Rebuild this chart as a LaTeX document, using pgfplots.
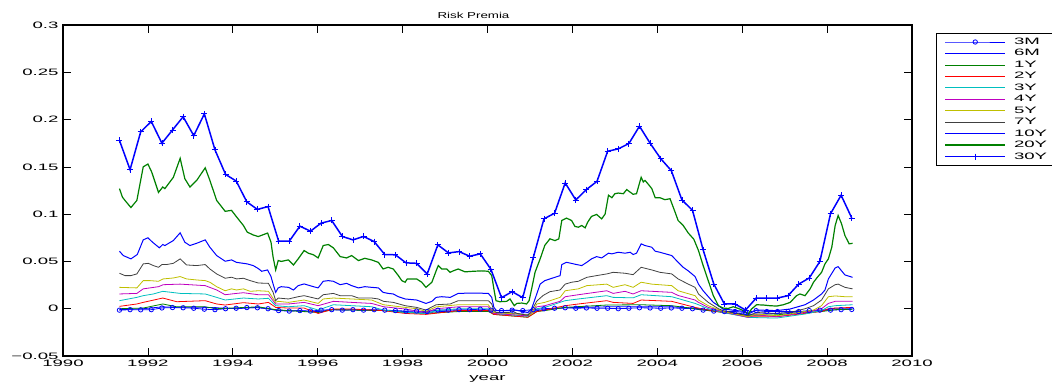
\documentclass[border=0pt]{standalone}
\usepackage{pgfplots}
\pgfplotsset{compat=1.18}
\usepackage{fontspec}
\setmainfont{Liberation Sans}
\newfontfamily\tickfont[FakeStretch=2.0]{Liberation Sans}
\newfontfamily\headfont[FakeStretch=1.55]{Liberation Sans}

\definecolor{mblue}{rgb}{0,0,1}
\definecolor{mgreen}{rgb}{0,0.5,0}
\definecolor{mred}{rgb}{1,0,0}
\definecolor{mcyan}{rgb}{0,0.75,0.75}
\definecolor{mmag}{rgb}{0.75,0,0.75}
\definecolor{myel}{rgb}{0.75,0.75,0}
\definecolor{mgray}{rgb}{0.25,0.25,0.25}

\begin{document}
\begin{tikzpicture}
\begin{axis}[
  scale only axis,
  width=849pt, height=331pt,
  xmin=1990, xmax=2010, ymin=-0.05, ymax=0.3,
  xtick={1990,1992,...,2010},
  xticklabels={1990,1992,1994,1996,1998,2000,2002,2004,2006,2008,2010},
  ytick={-0.05,0,0.05,0.1,0.15,0.2,0.25,0.3},
  yticklabels={−0.05,0,0.05,0.1,0.15,0.2,0.25,0.3},
  tick align=inside,
  major tick length=8pt,
  tick style={black, line width=0.7pt},
  axis line style={black, line width=1.2pt},
  ticklabel style={font=\fontsize{9.3}{11}\tickfont},
  xticklabel style={yshift=0pt},
  yticklabel style={xshift=-1pt},
  xlabel={\fontsize{9.3}{11}\tickfont year},
  xlabel style={yshift=-3pt},
  legend style={at={(1,1)}, anchor=north west, xshift=24pt, yshift=-8pt,
    font=\fontsize{9.3}{11}\tickfont, draw=black, line width=1pt,
    inner xsep=8pt, inner ysep=2.5pt, row sep=-0.5pt, column sep=6pt,
    cells={anchor=west}},
  legend cell align=left,
  legend image code/.code={%
    \draw[mark repeat=2,mark phase=2,#1]
      plot coordinates {(0pt,0pt) (30pt,0pt) (60pt,0pt)};},
]
\coordinate (o) at (rel axis cs:0,0);
\coordinate (top) at (rel axis cs:0.5,1);

% 3M
\addplot[mblue, line width=0.8pt, mark=o, mark size=2.2pt, mark options={line width=0.8pt}] coordinates {
(1991.33,-0.0015) (1991.58,-0.001) (1991.83,-0.0012) (1992.08,-0.001)
(1992.33,0.0008) (1992.58,0.0012) (1992.83,0.001) (1993.08,0.0005)
(1993.33,-0.0005) (1993.58,-0.001) (1993.83,0) (1994.08,0.0005)
(1994.33,0.0012) (1994.58,0.001) (1994.83,0) (1995.08,-0.002)
(1995.33,-0.0025) (1995.58,-0.002) (1995.83,-0.0025) (1996.08,-0.0015)
(1996.33,-0.001) (1996.58,-0.0015) (1996.83,-0.001) (1997.08,-0.0015)
(1997.33,-0.001) (1997.58,-0.0015) (1997.83,-0.002) (1998.08,-0.0025)
(1998.33,-0.0025) (1998.58,-0.003) (1998.83,-0.0015) (1999.08,-0.0015)
(1999.33,-0.001) (1999.58,-0.001) (1999.83,-0.0005) (2000.08,-0.0015)
(2000.33,-0.002) (2000.58,-0.0015) (2000.83,-0.002) (2001.08,-0.001)
(2001.33,0) (2001.58,0.0005) (2001.83,0.001) (2002.08,0.0005)
(2002.33,0.0008) (2002.58,0.0005) (2002.83,0.0005) (2003.08,0)
(2003.33,0.0005) (2003.58,0.001) (2003.83,0.0008) (2004.08,0.0005)
(2004.33,0.0008) (2004.58,0.0005) (2004.83,0) (2005.08,-0.0015)
(2005.33,-0.0025) (2005.58,-0.003) (2005.83,-0.003) (2006.08,-0.004)
(2006.33,-0.002) (2006.58,-0.003) (2006.83,-0.003) (2007.08,-0.003)
(2007.33,-0.003) (2007.58,-0.002) (2007.83,-0.0015) (2008.08,-0.0015)
(2008.33,-0.001) (2008.58,-0.0008)
};
\addlegendentry{3M}

% 6M
\addplot[mblue, line width=0.8pt] coordinates {
(1991.33,-0.001) (1991.89,0) (1992.35,0.002) (1992.68,0.0015) (1993.35,0.0015)
(1994.09,0) (1994.60,0.0015) (1995.01,-0.0015) (1995.31,-0.002) (1996.01,-0.003)
(1996.37,-0.001) (1997.55,-0.002) (1998.06,-0.003) (1998.55,-0.004) (1999.31,-0.002)
(2000.02,-0.002) (2000.15,-0.004) (2000.95,-0.006) (2001.16,-0.002) (2001.35,-0.001)
(2001.83,0.001) (2002.81,0.002) (2003.62,0.002) (2004.34,0.002) (2004.89,0.0005)
(2005.55,-0.003) (2006.14,-0.006) (2006.81,-0.005) (2007.48,-0.003) (2007.87,-0.002)
(2008.19,0.0005) (2008.60,0.0005)
};
\addlegendentry{6M}

% 1Y
\addplot[mgreen, line width=0.8pt] coordinates {
(1991.33,0) (1991.89,0.0007) (1992.35,0.005) (1992.68,0.002) (1993.35,0.002)
(1993.62,0) (1994.60,0.002) (1995.01,-0.001) (1995.31,-0.002) (1996.01,-0.004)
(1996.37,-0.001) (1997.55,-0.002) (1998.06,-0.004) (1998.55,-0.005) (1999.31,-0.003)
(2000.02,-0.003) (2000.15,-0.006) (2000.95,-0.009) (2001.16,-0.003) (2001.35,-0.002)
(2001.83,0.0014) (2002.81,0.0039) (2003.62,0.0042) (2004.34,0.0032) (2004.89,0)
(2005.55,-0.004) (2006.14,-0.007) (2006.81,-0.0065) (2007.48,-0.004) (2007.87,-0.003)
(2008.19,-0.001) (2008.60,-0.0005)
};
\addlegendentry{1Y}

% 2Y
\addplot[mred, line width=0.8pt] coordinates {
(1991.33,0.0025) (1991.74,0.005) (1991.89,0.0067) (1992.35,0.0113) (1992.68,0.0074)
(1993.35,0.0085) (1993.62,0.005) (1993.82,0.0039) (1994.25,0.0064) (1994.60,0.005)
(1994.84,0.0067) (1995.01,0.0014) (1995.31,0.0007) (1995.68,0.0007) (1996.01,-0.005)
(1996.37,-0.0003) (1996.80,-0.0003) (1997.55,-0.002) (1998.06,-0.005) (1998.55,-0.006)
(1999.31,-0.002) (2000.02,-0.002) (2000.15,-0.006) (2000.95,-0.009) (2001.16,-0.003)
(2001.35,-0.0014) (2001.83,0.0032) (2002.14,0.005) (2002.81,0.0085) (2002.96,0.0067)
(2003.43,0.0056) (2003.62,0.0092) (2004.34,0.0078) (2004.89,0.0014) (2005.20,-0.0014)
(2005.55,-0.004) (2006.14,-0.0085) (2006.81,-0.0085) (2007.48,-0.005) (2007.87,-0.0028)
(2008.03,0) (2008.19,0.0007) (2008.60,0.0014)
};
\addlegendentry{2Y}

% 3Y
\addplot[mcyan, line width=0.8pt] coordinates {
(1991.33,0.0085) (1991.74,0.012) (1991.89,0.0138) (1992.13,0.0156) (1992.35,0.0184)
(1992.76,0.0162) (1993.35,0.0156) (1993.62,0.012) (1993.82,0.0092) (1994.25,0.0113)
(1994.60,0.0103) (1994.84,0.011) (1995.01,0.0032) (1995.31,0.0021) (1995.68,0.0032)
(1996.01,-0.0014) (1996.37,0.0042) (1996.80,0.0032) (1997.27,0.0021) (1997.55,-0.0014)
(1998.06,-0.0039) (1998.55,-0.005) (1998.79,-0.002) (1999.31,0) (2000.02,0)
(2000.15,-0.005) (2000.95,-0.008) (2001.16,0) (2001.35,0.0014) (2001.83,0.0085)
(2002.14,0.0103) (2002.81,0.0138) (2002.96,0.012) (2003.43,0.0115) (2003.62,0.0148)
(2004.34,0.0127) (2004.89,0.0056) (2004.97,0.0042) (2005.20,0) (2005.55,-0.004)
(2006.14,-0.0092) (2006.81,-0.0099) (2007.48,-0.0056) (2007.87,-0.002) (2008.03,0.0021)
(2008.19,0.0032) (2008.60,0.0042)
};
\addlegendentry{3Y}

% 4Y
\addplot[mmag, line width=0.8pt] coordinates {
(1991.33,0.0156) (1991.74,0.0162) (1991.89,0.021) (1992.25,0.0233) (1992.36,0.0254)
(1992.76,0.026) (1993.35,0.0244) (1993.62,0.0198) (1993.82,0.0148) (1994.09,0.0162)
(1994.25,0.0169) (1994.60,0.0148) (1994.84,0.0148) (1995.01,0.005) (1995.31,0.005)
(1995.68,0.0067) (1996.01,0.0032) (1996.37,0.0078) (1996.80,0.0067) (1997.27,0.0056)
(1997.55,0.0021) (1998.06,-0.0003) (1998.55,-0.004) (1998.79,0) (1999.31,0.002)
(2000.02,0.002) (2000.15,-0.005) (2000.95,-0.0075) (2001.16,0.002) (2001.35,0.0032)
(2001.71,0.0078) (2001.83,0.0127) (2002.14,0.0148) (2002.81,0.019) (2002.96,0.0162)
(2003.24,0.0184) (2003.43,0.0156) (2003.62,0.019) (2004.34,0.0173) (2004.49,0.014)
(2004.89,0.0092) (2004.97,0.0067) (2005.20,0.0014) (2005.55,-0.0032) (2006.14,-0.0092)
(2006.34,-0.0064) (2006.81,-0.0085) (2007.48,-0.004) (2007.87,0) (2008.03,0.0056)
(2008.19,0.0078) (2008.60,0.0078)
};
\addlegendentry{4Y}

% 5Y
\addplot[myel, line width=0.8pt] coordinates {
(1991.33,0.0226) (1991.74,0.022) (1991.89,0.0297) (1992.05,0.0297) (1992.25,0.029)
(1992.36,0.0315) (1992.60,0.0325) (1992.76,0.034) (1992.91,0.0315) (1993.15,0.0304)
(1993.35,0.0297) (1993.46,0.028) (1993.62,0.0233) (1993.82,0.019) (1993.97,0.021)
(1994.09,0.0198) (1994.25,0.021) (1994.41,0.0184) (1994.60,0.019) (1994.84,0.0184)
(1995.01,0.0067) (1995.07,0.0078) (1995.31,0.0067) (1995.68,0.0092) (1996.01,0.0056)
(1996.13,0.0103) (1996.37,0.0113) (1996.80,0.0103) (1997.27,0.0092) (1997.55,0.0042)
(1998.06,0.0014) (1998.33,0) (1998.55,-0.0028) (1998.79,0.002) (1999.31,0.0042)
(2000.02,0.0042) (2000.15,-0.004) (2000.50,-0.005) (2000.95,-0.0065) (2001.04,-0.0056)
(2001.16,0.005) (2001.35,0.0067) (2001.71,0.012) (2001.83,0.019) (2002.14,0.021)
(2002.34,0.0244) (2002.81,0.026) (2002.96,0.0226) (2003.24,0.0254) (2003.43,0.0226)
(2003.62,0.028) (2003.87,0.026) (2004.34,0.0244) (2004.49,0.019) (2004.89,0.0138)
(2004.97,0.0092) (2005.20,0.0032) (2005.55,-0.0028) (2006.14,-0.0085) (2006.34,-0.0056)
(2006.81,-0.0074) (2007.13,-0.0056) (2007.48,-0.0028) (2007.68,-0.0014) (2007.87,0.0032)
(2008.03,0.0127) (2008.19,0.0135) (2008.42,0.0127) (2008.60,0.0127)
};
\addlegendentry{5Y}

% 7Y
\addplot[mgray, line width=0.8pt] coordinates {
(1991.33,0.0375) (1991.46,0.035) (1991.60,0.035) (1991.74,0.0368) (1991.89,0.0474)
(1992.01,0.048) (1992.13,0.0456) (1992.25,0.0438) (1992.33,0.0467) (1992.44,0.0467)
(1992.60,0.048) (1992.76,0.0527) (1992.91,0.0463) (1993.15,0.0456) (1993.35,0.0467)
(1993.46,0.042) (1993.62,0.0368) (1993.82,0.0322) (1993.97,0.0333) (1994.09,0.0315)
(1994.25,0.0322) (1994.41,0.0297) (1994.60,0.0272) (1994.84,0.0268) (1994.95,0.0173)
(1995.01,0.0085) (1995.07,0.0113) (1995.31,0.0103) (1995.54,0.0127) (1995.68,0.0138)
(1996.01,0.0103) (1996.13,0.0148) (1996.37,0.0162) (1996.53,0.0138) (1996.80,0.0138)
(1996.96,0.0113) (1997.27,0.0113) (1997.43,0.0103) (1997.55,0.0078) (1997.78,0.0067)
(1998.06,0.0032) (1998.33,0.0014) (1998.55,-0.0014) (1998.79,0.0042) (1999.12,0.005)
(1999.31,0.0085) (2000.02,0.0085) (2000.10,0.005) (2000.15,-0.002) (2000.21,-0.004)
(2000.50,-0.004) (2000.60,-0.003) (2000.70,-0.005) (2000.95,-0.007) (2001.04,-0.002)
(2001.16,0.008) (2001.31,0.014) (2001.47,0.018) (2001.71,0.0198) (2001.83,0.026)
(2001.98,0.028) (2002.14,0.029) (2002.34,0.0332) (2002.57,0.035) (2002.81,0.0368)
(2002.96,0.0385) (2003.24,0.0375) (2003.43,0.036) (2003.62,0.0438) (2003.87,0.041)
(2004.06,0.0385) (2004.34,0.0368) (2004.49,0.0315) (2004.73,0.026) (2004.89,0.0226)
(2004.97,0.0156) (2005.20,0.0067) (2005.44,0) (2005.55,-0.002) (2006.14,-0.0074)
(2006.34,-0.004) (2006.81,-0.005) (2007.13,-0.004) (2007.48,0) (2007.68,0.0032)
(2007.87,0.0092) (2008.03,0.021) (2008.19,0.0254) (2008.26,0.026) (2008.42,0.0226)
(2008.60,0.021)
};
\addlegendentry{7Y}

% 10Y
\addplot[mblue, line width=1pt] coordinates {
(1991.33,0.0608) (1991.42,0.0562) (1991.60,0.0527) (1991.75,0.0573) (1991.89,0.0728)
(1992.00,0.075) (1992.11,0.0703) (1992.27,0.0644) (1992.35,0.0679) (1992.40,0.0668)
(1992.60,0.0721) (1992.76,0.0803) (1992.87,0.0703) (1992.99,0.0668) (1993.15,0.0692)
(1993.35,0.0728) (1993.46,0.065) (1993.62,0.0562) (1993.82,0.0502) (1993.97,0.0516)
(1994.09,0.049) (1994.34,0.0474) (1994.48,0.0456) (1994.60,0.0425) (1994.68,0.0396)
(1994.82,0.041) (1994.90,0.034) (1994.95,0.026) (1995.01,0.0173) (1995.07,0.022)
(1995.14,0.0233) (1995.31,0.0226) (1995.43,0.0198) (1995.54,0.0244) (1995.68,0.0262)
(1995.90,0.0233) (1996.01,0.022) (1996.13,0.029) (1996.25,0.0297) (1996.37,0.029)
(1996.53,0.0254) (1996.68,0.0268) (1996.80,0.0244) (1996.96,0.022) (1997.11,0.0233)
(1997.27,0.0226) (1997.43,0.022) (1997.54,0.0173) (1997.66,0.0162) (1997.78,0.0156)
(1997.90,0.0127) (1998.06,0.0103) (1998.33,0.0092) (1998.55,0.0056) (1998.69,0.0078)
(1998.79,0.012) (1998.92,0.0127) (1999.12,0.012) (1999.31,0.0162) (1999.67,0.0166)
(2000.02,0.0162) (2000.10,0.012) (2000.15,0.0014) (2000.21,-0.002) (2000.50,-0.002)
(2000.60,-0.001) (2000.95,-0.004) (2001.04,0) (2001.24,0.026) (2001.35,0.0297)
(2001.71,0.035) (2001.75,0.0467) (2001.86,0.0491) (2002.10,0.0467) (2002.22,0.0456)
(2002.34,0.0491) (2002.45,0.0527) (2002.57,0.0551) (2002.69,0.0537) (2002.85,0.0587)
(2002.93,0.058) (2003.08,0.0597) (2003.24,0.0587) (2003.36,0.0597) (2003.43,0.0573)
(2003.51,0.0587) (2003.62,0.0686) (2003.71,0.0668) (2003.87,0.065) (2003.95,0.0608)
(2004.06,0.0597) (2004.34,0.0562) (2004.49,0.0491) (2004.61,0.0438) (2004.73,0.040)
(2004.89,0.034) (2004.97,0.026) (2005.08,0.019) (2005.32,0.0067) (2005.55,-0.0003)
(2006.03,-0.0028) (2006.14,-0.0056) (2006.34,-0.0014) (2006.81,-0.002) (2007.13,-0.0003)
(2007.48,0.0042) (2007.68,0.0092) (2007.87,0.0156) (2007.95,0.0198) (2008.03,0.0315)
(2008.19,0.0431) (2008.26,0.0445) (2008.42,0.0357) (2008.60,0.0332)
};
\addlegendentry{10Y}

% 20Y
\addplot[mgreen, line width=1.2pt] coordinates {
(1991.33,0.127) (1991.40,0.118) (1991.46,0.1145) (1991.60,0.107) (1991.74,0.1145)
(1991.89,0.150) (1992.00,0.153) (1992.09,0.1445) (1992.25,0.123) (1992.35,0.1287)
(1992.40,0.127) (1992.60,0.139) (1992.76,0.159) (1992.87,0.1375) (1992.99,0.1287)
(1993.15,0.1357) (1993.35,0.149) (1993.46,0.1357) (1993.62,0.1145) (1993.82,0.103)
(1993.97,0.104) (1994.09,0.097) (1994.25,0.088) (1994.34,0.081) (1994.48,0.078)
(1994.60,0.0763) (1994.82,0.080) (1994.90,0.0703) (1994.95,0.0544) (1995.01,0.041)
(1995.07,0.051) (1995.14,0.050) (1995.31,0.0516) (1995.43,0.0463) (1995.54,0.0527)
(1995.68,0.0615) (1995.78,0.0587) (1995.90,0.057) (1996.01,0.0537) (1996.13,0.0668)
(1996.25,0.0679) (1996.37,0.0643) (1996.53,0.0551) (1996.68,0.0537) (1996.80,0.0562)
(1996.96,0.0509) (1997.11,0.0533) (1997.27,0.0516) (1997.43,0.049) (1997.54,0.042)
(1997.66,0.0438) (1997.78,0.042) (1997.90,0.035) (1997.98,0.0297) (1998.06,0.028)
(1998.11,0.0315) (1998.33,0.0315) (1998.45,0.028) (1998.55,0.0226) (1998.69,0.028)
(1998.79,0.040) (1998.84,0.0456) (1998.92,0.042) (1999.04,0.042) (1999.12,0.0385)
(1999.19,0.040) (1999.31,0.042) (1999.47,0.039) (1999.67,0.0396) (1999.86,0.040)
(2000.02,0.0396) (2000.10,0.035) (2000.15,0.021) (2000.20,0.0085) (2000.29,0.0074)
(2000.45,0.0078) (2000.53,0.0103) (2000.63,0.0032) (2000.69,0.0056) (2000.81,0.006)
(2000.92,0.005) (2000.98,0.0085) (2001.04,0.021) (2001.12,0.0385) (2001.24,0.0527)
(2001.35,0.067) (2001.47,0.0739) (2001.59,0.072) (2001.68,0.0739) (2001.75,0.0933)
(2001.86,0.0958) (2001.98,0.0933) (2002.06,0.087) (2002.14,0.0862) (2002.22,0.088)
(2002.30,0.0855) (2002.36,0.0915) (2002.45,0.0976) (2002.57,0.0997) (2002.69,0.095)
(2002.77,0.100) (2002.85,0.120) (2002.93,0.1174) (2003.00,0.1216) (2003.08,0.1223)
(2003.20,0.1216) (2003.28,0.126) (2003.36,0.1233) (2003.43,0.121) (2003.51,0.1216)
(2003.62,0.139) (2003.67,0.134) (2003.71,0.1357) (2003.79,0.1315) (2003.87,0.127)
(2003.95,0.1174) (2004.06,0.1174) (2004.18,0.1153) (2004.30,0.1163) (2004.42,0.102)
(2004.49,0.0933) (2004.61,0.088) (2004.73,0.080) (2004.86,0.0735) (2004.97,0.0615)
(2005.08,0.0456) (2005.20,0.0297) (2005.32,0.0138) (2005.44,0.0032) (2005.55,0.0007)
(2005.67,0.0003) (2005.79,0.0021) (2005.91,0.0003) (2006.03,-0.0021) (2006.14,-0.0056)
(2006.22,-0.0003) (2006.34,0.0042) (2006.50,0.0039) (2006.65,0.0032) (2006.81,0.0028)
(2006.97,0.0042) (2007.13,0.0067) (2007.28,0.0138) (2007.36,0.0156) (2007.48,0.0138)
(2007.60,0.021) (2007.68,0.028) (2007.77,0.0332) (2007.87,0.0385) (2007.95,0.0474)
(2008.03,0.0527) (2008.11,0.065) (2008.19,0.088) (2008.26,0.0986) (2008.34,0.0898)
(2008.42,0.0774) (2008.52,0.0686) (2008.60,0.0692)
};
\addlegendentry{20Y}

% 30Y
\addplot[mblue, line width=1.5pt, mark=+, mark size=3pt, mark options={line width=0.8pt}] coordinates {
(1991.33,0.178) (1991.58,0.147) (1991.83,0.187) (1992.08,0.198)
(1992.33,0.175) (1992.58,0.189) (1992.83,0.203) (1993.08,0.183)
(1993.33,0.206) (1993.58,0.168) (1993.83,0.142) (1994.08,0.135)
(1994.33,0.113) (1994.58,0.105) (1994.83,0.108) (1995.08,0.0714)
(1995.33,0.0714) (1995.58,0.0873) (1995.83,0.082) (1996.08,0.0905)
(1996.33,0.0933) (1996.58,0.0764) (1996.83,0.0728) (1997.08,0.0764)
(1997.33,0.071) (1997.58,0.0573) (1997.83,0.057) (1998.08,0.0485)
(1998.33,0.048) (1998.58,0.0368) (1998.83,0.0675) (1999.08,0.059)
(1999.33,0.0604) (1999.58,0.0555) (1999.83,0.058) (2000.08,0.0417)
(2000.33,0.0117) (2000.58,0.018) (2000.83,0.0117) (2001.08,0.0544)
(2001.33,0.095) (2001.58,0.101) (2001.83,0.133) (2002.08,0.115)
(2002.33,0.126) (2002.58,0.1347) (2002.83,0.1665) (2003.08,0.169)
(2003.33,0.1746) (2003.58,0.193) (2003.83,0.175) (2004.08,0.1587)
(2004.33,0.146) (2004.58,0.115) (2004.83,0.104) (2005.08,0.0622)
(2005.33,0.0262) (2005.58,0.005) (2005.83,0.005) (2006.08,-0.0014)
(2006.33,0.0113) (2006.58,0.0113) (2006.83,0.0113) (2007.08,0.0138)
(2007.33,0.026) (2007.58,0.0325) (2007.83,0.05) (2008.08,0.1004)
(2008.33,0.120) (2008.58,0.096)
};
\addlegendentry{30Y}
\end{axis}
\node[font=\fontsize{8.6}{10}\headfont, inner sep=0pt, anchor=base]
  at ([xshift=-14pt, yshift=6.7pt]top) {Risk Premia};
\pgfresetboundingbox
\path (o) ++(-63pt,-27pt) rectangle ++(1052pt,383pt);
\end{tikzpicture}
\end{document}
